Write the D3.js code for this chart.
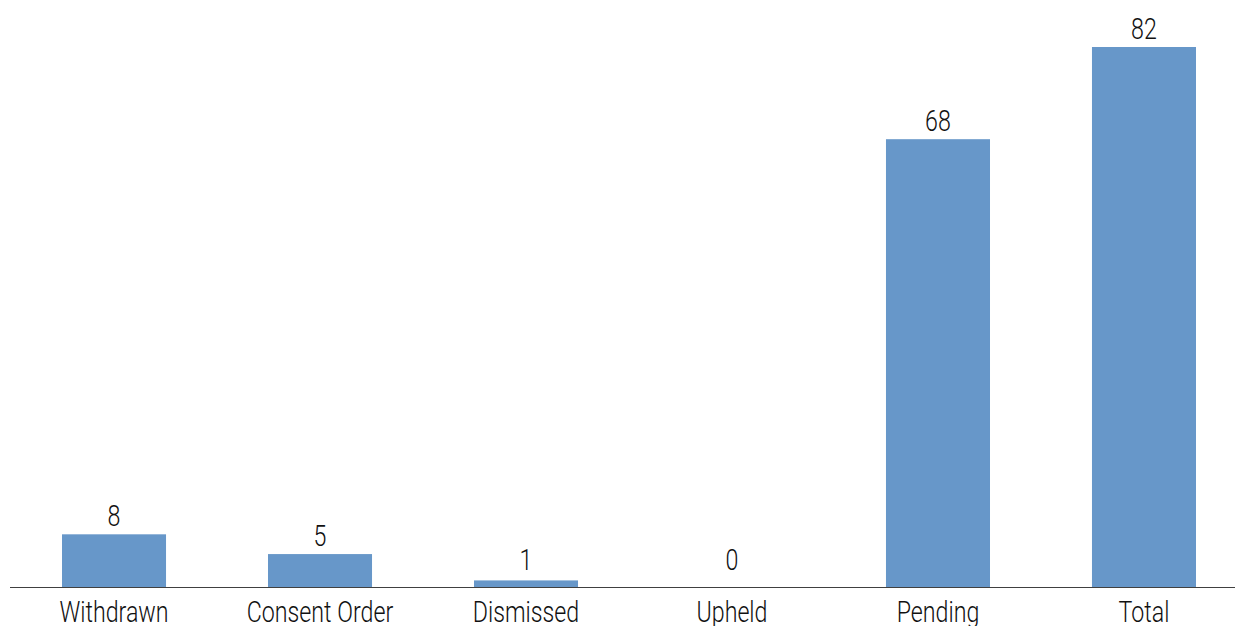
<!DOCTYPE html>
<html>
<head>
<meta charset="utf-8">
<script src="https://cdn.jsdelivr.net/npm/d3@7"></script>
<style>
  html, body { margin: 0; padding: 0; background: #fff; overflow: hidden; }
  text { font-family: Roboto, "DejaVu Sans", sans-serif; font-weight: 300; fill: #111; }
</style>
</head>
<body>
<div id="chart"></div>
<script>
// outcome categories and counts
var categories = ['Withdrawn', 'Consent Order', 'Dismissed', 'Upheld', 'Pending', 'Total'];
var counts = [8, 5, 1, 0, 68, 82];

var svgWidth = 1235;
var svgHeight = 626;
var baseY = 587;
var narrow = 'scale(0.8,1)'; // fake the condensed face

var svg = d3.select('#chart')
  .append('svg')
  .attr('width', svgWidth)
  .attr('height', svgHeight);

var x = d3.scaleBand()
  .domain(categories)
  .range([11, 1247])
  .paddingInner(0.495)
  .paddingOuter(0.2476);

var y = d3.scaleLinear()
  .domain([0, 82])
  .range([baseY, 47]);

// bars
svg.selectAll('rect.bar')
  .data(counts)
  .enter()
  .append('rect')
  .attr('class', 'bar')
  .attr('x', function (d, i) { return x(categories[i]); })
  .attr('y', function (d) { return y(d); })
  .attr('width', x.bandwidth())
  .attr('height', function (d) { return baseY - y(d); })
  .attr('fill', '#6797c9');

// value labels
svg.selectAll('text.val')
  .data(counts)
  .enter()
  .append('text')
  .attr('class', 'val')
  .attr('transform', function (d, i) {
    var cx = x(categories[i]) + x.bandwidth() / 2;
    var cy = Math.min(y(d), baseY - 9) - 8;
    return 'translate(' + cx + ',' + cy + ') ' + narrow;
  })
  .attr('text-anchor', 'middle')
  .attr('font-size', '29px')
  .text(function (d) { return d; });

// x axis
var xAxis = d3.axisBottom(x).tickSize(0).tickPadding(0);
var xAxisG = svg.append('g')
  .attr('transform', 'translate(0,' + baseY + ')')
  .call(xAxis);
xAxisG.select('.domain').remove();
xAxisG.append('line')
  .attr('x1', 10)
  .attr('x2', svgWidth)
  .attr('y1', 0.5)
  .attr('y2', 0.5)
  .attr('stroke', '#404040')
  .attr('stroke-width', 1);
xAxisG.selectAll('text')
  .attr('font-size', '29px')
  .attr('font-family', null)
  .attr('fill', '#111')
  .attr('dy', null)
  .attr('y', 35)
  .attr('transform', narrow);
</script>
</body>
</html>
